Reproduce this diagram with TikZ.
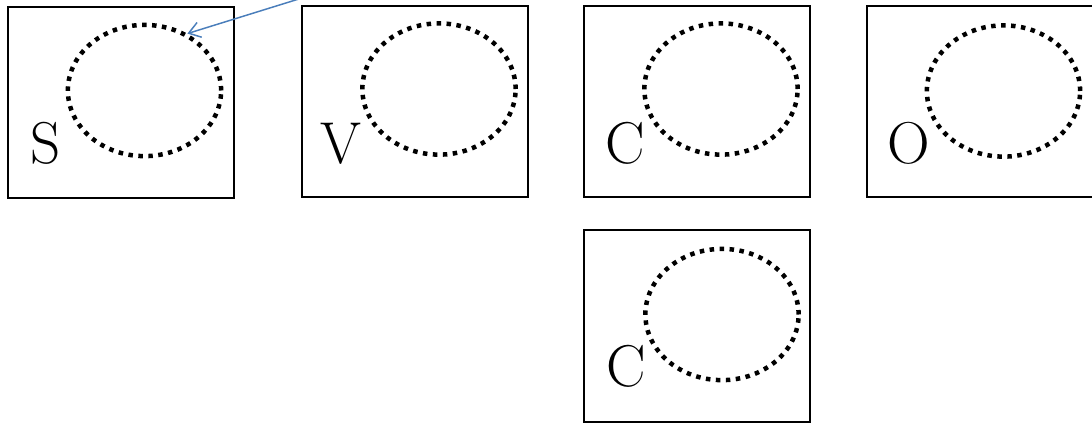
\documentclass[tikz,border=0pt]{standalone}
\usepackage{tikz}
\usetikzlibrary{%
  shapes, shapes.geometric, arrows.meta,
  calc, positioning,
}
\definecolor{arrowblue}{RGB}{74,126,187}

\begin{document}
\begin{tikzpicture}[
  x=0.025cm, y=-0.025cm,
  frame/.style={rectangle, draw=black, line width=1.4pt, inner sep=0pt,
    minimum width=5.65cm, minimum height=4.78cm},
  blob/.style={ellipse, draw=black, line width=3.2pt, inner sep=0pt,
    dash pattern=on 3.2pt off 3.9pt,
    minimum width=3.83cm, minimum height=3.28cm},
  lett/.style={anchor=base, inner sep=0pt, font=\fontsize{42}{48}\selectfont},
  pointer/.style={draw=arrowblue, line width=1.05pt,
    -{Straight Barb[length=8pt, width=11pt]}},
]
%% page size: 1092 x 424 px
\useasboundingbox (0,0) rectangle (1092,424);

%% ── Frames ──────────────────────────────────────────────────────────────
\node[frame] (boxS)  at (121,  102.5) {};
\node[frame] (boxV)  at (415,  101.5) {};
\node[frame] (boxC)  at (697,  101.5) {};
\node[frame] (boxO)  at (980,  101.5) {};
\node[frame] (boxCC) at (697,  326)   {};

%% ── Dotted rings ────────────────────────────────────────────────────────
\node[blob] (ringS)  at (144.5, 90.5) {};
\node[blob] (ringV)  at (439,   89)   {};
\node[blob] (ringC)  at (721,   89)   {};
\node[blob] (ringO)  at (1003.5,91)   {};
\node[blob] (ringCC) at (722,   314.5){};

%% ── Letters ─────────────────────────────────────────────────────────────
\node[lett] (labS)  at (46,   163) {S};
\node[lett] (labV)  at (341,  163) {V};
\node[lett] (labC)  at (625.5,163) {C};
\node[lett] (labO)  at (909,  163) {O};
\node[lett] (labCC) at (626,  386) {C};

%% ── Pointer ─────────────────────────────────────────────────────────────
\coordinate (tail) at (302,-2);
\draw[pointer] (tail) -- (ringS.53);

\end{tikzpicture}
\end{document}
